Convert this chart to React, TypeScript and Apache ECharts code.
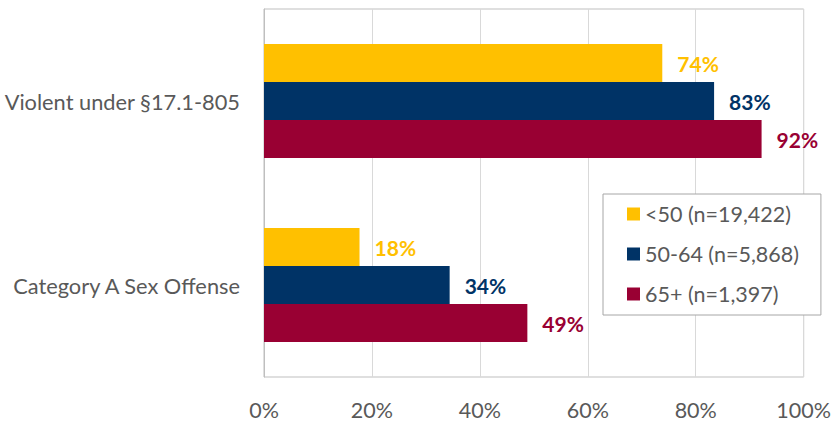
import React, { useEffect, useRef } from "react";
import * as echarts from "echarts";

const categories = ["Violent under §17.1-805", "Category A Sex Offense"];
const seriesNames = ["<50 (n=19,422)", "50-64 (n=5,868)", "65+ (n=1,397)"];
const under50 = [73.8, 17.7];
const age50to64 = [83.4, 34.4];
const age65plus = [92.2, 48.8];
const seriesColors = ["#FFC000", "#003366", "#990033"];
const xTicks = [0, 20, 40, 60, 80, 100];

const FONT = "Lato, 'Open Sans', sans-serif";

export default function App() {
  const ref = useRef<HTMLDivElement>(null);
  useEffect(() => {
    if (!ref.current) return;
    const chart = echarts.init(ref.current, null, { renderer: "svg" });
    const values = [under50, age50to64, age65plus];
    chart.setOption({
      animation: false,
      textStyle: { fontFamily: FONT },
      grid: {
        left: 264,
        right: 28,
        top: 9,
        bottom: 46,
        show: true,
        borderColor: "#BFBFBF",
        borderWidth: 1,
      },
      legend: {
        orient: "vertical",
        left: 603,
        top: 194,
        padding: [9, 22, 10, 24],
        itemGap: 18,
        itemWidth: 13,
        itemHeight: 13,
        icon: "rect",
        backgroundColor: "#FFFFFF",
        borderColor: "#A6A6A6",
        borderWidth: 1,
        textStyle: { fontFamily: FONT, fontSize: 21.5, color: "#595959", lineHeight: 22 },
        data: seriesNames,
      },
      xAxis: {
        type: "value",
        min: xTicks[0],
        max: xTicks[xTicks.length - 1],
        interval: 20,
        axisLine: { show: false },
        axisTick: { show: false },
        splitLine: { lineStyle: { color: "#D9D9D9", width: 1 } },
        axisLabel: {
          formatter: (v: number) => `${v}%`,
          fontFamily: FONT,
          fontSize: 21.5,
          color: "#595959",
          margin: 22,
        },
      },
      yAxis: {
        type: "category",
        inverse: true,
        data: categories,
        axisLine: { show: true, lineStyle: { color: "#BFBFBF" } },
        axisTick: { show: false },
        axisLabel: {
          fontFamily: FONT,
          fontSize: 21.8,
          color: "#595959",
          margin: 24,
        },
      },
      series: seriesNames.map((name, i) => ({
        name,
        type: "bar",
        data: values[i],
        barWidth: 38,
        barGap: "0%",
        itemStyle: { color: seriesColors[i] },
        label: {
          show: true,
          position: "right",
          distance: 15,
          formatter: (p: any) => `${Math.round(p.value)}%`,
          fontFamily: FONT,
          fontSize: 21,
          fontWeight: "bold",
          color: seriesColors[i],
        },
      })),
    });
    return () => chart.dispose();
  }, []);
  return (
    <div
      ref={ref}
      style={{ position: "fixed", left: 0, top: 0, width: 834, height: 423, background: "#fff" }}
    />
  );
}
